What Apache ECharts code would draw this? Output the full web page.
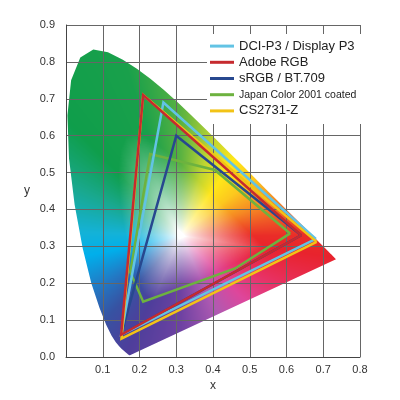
<!DOCTYPE html>
<html><head><meta charset="utf-8">
<script src="https://cdn.jsdelivr.net/npm/echarts@6/dist/echarts.min.js"></script>
<style>html,body{margin:0;padding:0;background:#fff}#c{width:400px;height:400px}</style>
</head><body><div id="c"></div>
<script>
// CIE 1931 spectral locus (380-700 nm), chromaticity x,y
const spectralLocus = [
[0.1741,0.0050],[0.1740,0.0050],[0.1738,0.0049],[0.1736,0.0049],[0.1733,0.0048],[0.1730,0.0048],
[0.1726,0.0048],[0.1721,0.0048],[0.1714,0.0051],[0.1703,0.0058],[0.1689,0.0069],[0.1669,0.0086],
[0.1644,0.0109],[0.1611,0.0138],[0.1566,0.0177],[0.1510,0.0227],[0.1440,0.0297],[0.1355,0.0399],
[0.1241,0.0578],[0.1096,0.0868],[0.0913,0.1327],[0.0687,0.2007],[0.0454,0.2950],[0.0235,0.4127],
[0.0082,0.5384],[0.0039,0.6548],[0.0139,0.7502],[0.0389,0.8120],[0.0743,0.8338],[0.1142,0.8262],
[0.1547,0.8059],[0.1929,0.7816],[0.2296,0.7543],[0.2658,0.7243],[0.3016,0.6923],[0.3373,0.6589],
[0.3731,0.6245],[0.4087,0.5896],[0.4441,0.5547],[0.4788,0.5202],[0.5125,0.4866],[0.5448,0.4544],
[0.5752,0.4242],[0.6029,0.3965],[0.6270,0.3725],[0.6482,0.3514],[0.6658,0.3340],[0.6801,0.3197],
[0.6915,0.3083],[0.7006,0.2993],[0.7079,0.2920],[0.7140,0.2859],[0.7190,0.2809],[0.7230,0.2770],
[0.7260,0.2740],[0.7300,0.2700],[0.7347,0.2653]
];
const whitePoint = [0.3127, 0.3290];

const gamutNames = ['DCI-P3 / Display P3','Adobe RGB','sRGB / BT.709','Japan Color 2001 coated','CS2731-Z'];
const dciP3      = [[0.680,0.320],[0.265,0.690],[0.150,0.060]];
const adobeRGB   = [[0.640,0.330],[0.210,0.710],[0.150,0.060]];
const sRGB       = [[0.640,0.330],[0.300,0.600],[0.150,0.060]];
const japanColor = [[0.610,0.335],[0.405,0.507],[0.229,0.550],[0.175,0.230],[0.210,0.150],[0.460,0.240]];
const cs2731z    = [[0.682,0.312],[0.210,0.710],[0.151,0.050]];

const xTickLabels = ['', '0.1','0.2','0.3','0.4','0.5','0.6','0.7','0.8'];
const yTickLabels = ['0.0','0.1','0.2','0.3','0.4','0.5','0.6','0.7','0.8','0.9'];

// style: hue colours around the white point (degrees)
const HUE_STOPS = [
[0,[234,45,40]],[8,[238,80,38]],[20,[245,135,35]],[38,[252,200,30]],[55,[255,230,25]],
[72,[190,212,50]],[90,[90,178,65]],[108,[25,160,75]],[135,[15,158,75]],[155,[25,168,140]],
[178,[20,178,215]],[192,[0,175,235]],[212,[35,120,195]],[228,[55,82,162]],[245,[78,62,155]],
[270,[110,66,162]],[295,[175,90,178]],[315,[222,70,155]],[335,[232,48,95]],[352,[232,35,45]],[360,[234,45,40]]
];
function hueColor(a){
  for(let i=1;i<HUE_STOPS.length;i++){
    if(a<=HUE_STOPS[i][0]){
      const s0=HUE_STOPS[i-1], s1=HUE_STOPS[i];
      const f=(a-s0[0])/(s1[0]-s0[0]);
      return [0,1,2].map(k=>s0[1][k]+(s1[1][k]-s0[1][k])*f);
    }
  }
  return HUE_STOPS[0][1];
}
const NB=720;
function buildRmax(){
  const arr=new Float32Array(NB);
  const n=spectralLocus.length;
  for(let i=0;i<NB;i++){
    const ang=i/NB*2*Math.PI, dx=Math.cos(ang), dy=Math.sin(ang);
    let best=1e9;
    for(let j=0;j<n;j++){
      const A=spectralLocus[j], B=spectralLocus[(j+1)%n];
      const ex=B[0]-A[0], ey=B[1]-A[1];
      const den=dx*ey-dy*ex; if(Math.abs(den)<1e-12) continue;
      const wx=A[0]-whitePoint[0], wy=A[1]-whitePoint[1];
      const k=(wx*ey-wy*ex)/den, u=(wx*dy-wy*dx)/den;
      if(u>=-1e-6&&u<=1+1e-6&&k>0&&k<best) best=k;
    }
    arr[i]=best;
  }
  return arr;
}
let fillCanvas=null, fillKey='';
function buildFill(api,pts){
  const W=api.getWidth(), H=api.getHeight();
  const p0=api.coord([0,0]), p1=api.coord([1,1]);
  const key=[W,H,p0,p1].join(',');
  if(fillCanvas&&key===fillKey) return fillCanvas;
  fillKey=key;
  const sx=p1[0]-p0[0], sy=p1[1]-p0[1];
  const rmax=buildRmax();
  const cv=document.createElement('canvas'); cv.width=W; cv.height=H;
  const ctx=cv.getContext('2d'); const img=ctx.createImageData(W,H);
  let minX=1e9,maxX=-1e9,minY=1e9,maxY=-1e9;
  pts.forEach(p=>{minX=Math.min(minX,p[0]);maxX=Math.max(maxX,p[0]);minY=Math.min(minY,p[1]);maxY=Math.max(maxY,p[1]);});
  for(let py=Math.max(0,Math.floor(minY)-2);py<Math.min(H,Math.ceil(maxY)+2);py++){
    for(let px=Math.max(0,Math.floor(minX)-2);px<Math.min(W,Math.ceil(maxX)+2);px++){
      const x=(px+0.5-p0[0])/sx, y=(py+0.5-p0[1])/sy;
      const dx=x-whitePoint[0], dy=y-whitePoint[1];
      const r=Math.hypot(dx,dy);
      let a=Math.atan2(dy,dx); if(a<0) a+=2*Math.PI;
      const b=Math.round(a/(2*Math.PI)*NB)%NB;
      const t=Math.min(1,r/rmax[b]);
      let s=Math.max(0,Math.min(1,(t-0.03)/0.52));
      s=Math.pow(s,0.8);
      const c=hueColor(a*180/Math.PI);
      const o=(py*W+px)*4;
      img.data[o]=255+(c[0]-255)*s; img.data[o+1]=255+(c[1]-255)*s; img.data[o+2]=255+(c[2]-255)*s; img.data[o+3]=255;
    }
  }
  ctx.putImageData(img,0,0);
  fillCanvas=cv; return cv;
}

const gamutColors = ['#62C3E4','#C62A2F','#27488F','#6DB23F','#F2C316'];
const gamutData = [dciP3, adobeRGB, sRGB, japanColor, cs2731z];
const drawOrder = [3,2,0,4,1];

const chart=echarts.init(document.getElementById('c'));
const lineSeries = drawOrder.map(i=>({
  type:'line', name:gamutNames[i], data:gamutData[i].concat([gamutData[i][0]]),
  symbol:'none', silent:true, animation:false, z:3+drawOrder.indexOf(i),
  lineStyle:{color:gamutColors[i], width:2.5, join:'miter', cap:'butt'},
  itemStyle:{color:gamutColors[i]}
}));
chart.setOption({
  animation:false,
  grid:{left:66,right:40,top:25,bottom:43,outerBoundsMode:'none'},
  xAxis:{type:'value',min:0,max:0.8,interval:0.1,name:'x',nameLocation:'middle',nameGap:21,
    nameTextStyle:{fontSize:12,color:'#333',fontFamily:'Liberation Sans'},
    axisLine:{show:true,lineStyle:{color:'#444',width:1}},axisTick:{show:false},
    axisLabel:{fontSize:11,color:'#333',margin:7,fontFamily:'Liberation Sans',formatter:v=>xTickLabels[Math.round(v*10)]},
    splitLine:{show:true,lineStyle:{color:'#666',width:1}}},
  yAxis:{type:'value',min:0,max:0.9,interval:0.1,name:'y',nameLocation:'middle',nameGap:36,nameRotate:0,
    nameTextStyle:{fontSize:12,color:'#333',fontFamily:'Liberation Sans'},
    axisLine:{show:true,lineStyle:{color:'#444',width:1}},axisTick:{show:false},
    axisLabel:{fontSize:11,color:'#333',margin:11,fontFamily:'Liberation Sans',formatter:v=>yTickLabels[Math.round(v*10)]},
    splitLine:{show:true,lineStyle:{color:'#666',width:1}}},
  legend:{orient:'vertical',left:207,top:34,backgroundColor:'#fff',padding:[4,6,5,3],itemGap:0,
    itemWidth:24,itemHeight:3,icon:'rect',
    textStyle:{fontFamily:'Liberation Sans',fontSize:13,color:'#222',lineHeight:16.2},
    data:gamutNames.map((n,i)=>i===3?{name:n,textStyle:{fontSize:10.5,lineHeight:16.2}}:{name:n})},
  series:[{
    type:'custom', silent:true, z:-1, data:[[0]],
    renderItem:(params,api)=>{
      const pts=spectralLocus.map(p=>api.coord(p));
      const cv=buildFill(api,pts);
      return {type:'polygon',shape:{points:pts},style:{fill:{image:cv,repeat:'no-repeat'},stroke:null}};
    }
  }].concat(lineSeries)
});
</script></body></html>
